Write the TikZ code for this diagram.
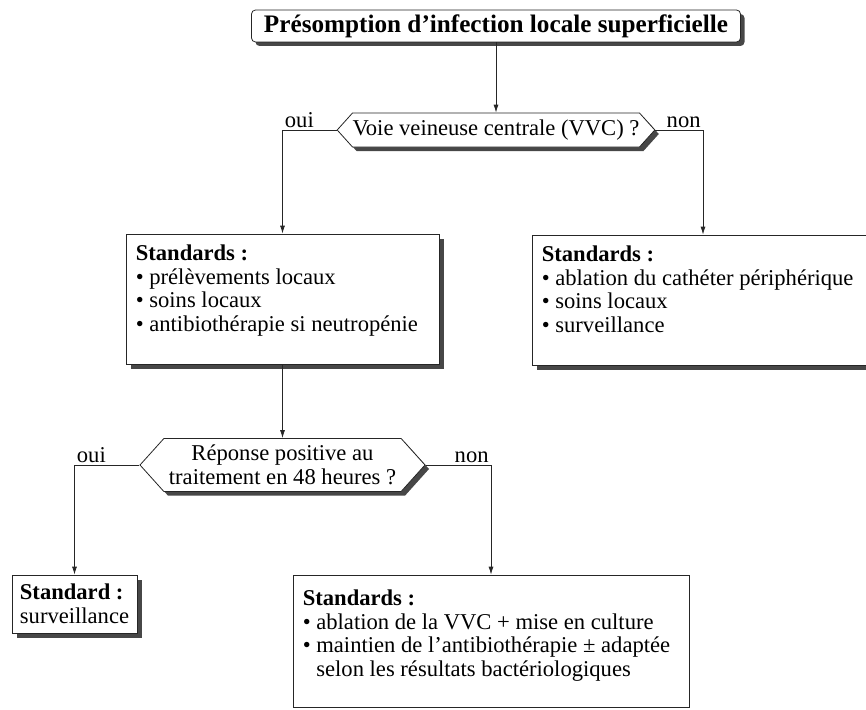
\documentclass[tikz,border=0pt]{standalone}
\usepackage{fontspec}
\setmainfont{Liberation Serif}
\usetikzlibrary{arrows.meta,shapes.symbols,shadows}
\newcommand{\txtsz}{\fontsize{22.6}{23.6}\selectfont}
\tikzset{
  shd/.style={drop shadow={shadow xshift=#1,shadow yshift=-#1,opacity=1,fill=black!72}},
  shd/.default=5pt,
  ttl/.style={draw=black!85,line width=0.8pt,rounded corners=4pt,fill=white,shd=4pt,inner sep=0pt,
    minimum width=489pt,minimum height=32pt,font=\fontsize{25.2}{27}\selectfont\bfseries},
  qn/.style={signal,signal to=west and east,signal pointer angle=96,draw=black!85,line width=0.8pt,
    fill=white,shd=4pt,inner sep=0pt,align=center,font=\txtsz},
  box/.style={draw=black!85,line width=0.8pt,fill=white,inner sep=0pt},
  txt/.style={inner sep=0pt,align=left,anchor=north west,font=\txtsz},
  lnk/.style={line width=0.8pt,draw=black!85,-{Latex[length=8pt,width=5pt]}},
  lbl/.style={font=\txtsz,inner sep=2pt}
}

\begin{document}
\begin{tikzpicture}[x=1pt,y=-1pt]
\useasboundingbox (0,0) rectangle (866,709);
% title and questions
\node[ttl] (pres) at (496,26) {Présomption d’infection locale superficielle};
\node[qn,minimum width=308pt,minimum height=34pt] (vvc) at (496,130) {Voie veineuse centrale (VVC) ?};
\node[qn,minimum width=285pt,minimum height=53pt] (rep) at (282.5,465) {Réponse positive au\\traitement en 48 heures ?};
% boxes
\node[box,shd,minimum width=313pt,minimum height=130pt] (stdg) at (282.5,299) {};
\node[txt] (stdgt) at ([xshift=10pt,yshift=-11pt]stdg.north west)
  {\textbf{Standards :}\\\textbullet\ prélèvements locaux\\\textbullet\ soins locaux\\\textbullet\ antibiothérapie si neutropénie};
\node[box,shd,minimum width=342pt,minimum height=130pt] (stdd) at (703,300) {};
\node[txt] (stddt) at ([xshift=10pt,yshift=-11pt]stdd.north west)
  {\textbf{Standards :}\\\textbullet\ ablation du cathéter périphérique\\\textbullet\ soins locaux\\\textbullet\ surveillance};
\node[box,shd,minimum width=125pt,minimum height=58pt,align=left,font=\txtsz] (surv) at (74.5,604)
  {\textbf{Standard :}\\surveillance};
\node[box,minimum width=396pt,minimum height=132pt] (abl) at (491,641) {};
\node[txt] (ablt) at ([xshift=10pt,yshift=-15pt]abl.north west)
  {\textbf{Standards :}\\\textbullet\ ablation de la VVC + mise en culture\\\textbullet\ maintien de l’antibiothérapie ± adaptée\\\hphantom{\textbullet\ }selon les résultats bactériologiques};
% links
\draw[lnk] (pres.south) -- (vvc.north);
\draw[lnk] (vvc.west) -| node[lbl,anchor=south west]{oui} (stdg.north);
\draw[lnk] (vvc.east) -| node[lbl,anchor=south east]{non} (stdd.north);
\draw[lnk] (stdg.south) -- (rep.north);
\draw[lnk] (rep.west) -| node[lbl,anchor=south west]{oui} (surv.north);
\draw[lnk] (rep.east) -| node[lbl,anchor=south east]{non} (abl.north);
\end{tikzpicture}
\end{document}
